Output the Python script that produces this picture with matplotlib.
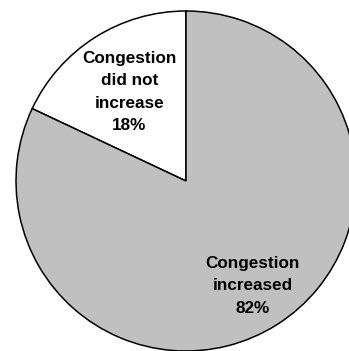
import numpy as np
from matplotlib import pyplot as plt

labels = ["Congestion\ndid not\nincrease", "Congestion\nincreased"]
shares = [18, 82]
colors = ["#FFFFFF", "#C0C0C0"]
label_dist = [0.62, 0.73]

fig = plt.figure(figsize=(3.49, 3.51), dpi=100)
ax = fig.add_axes([0, 0, 1, 1])

wedges, _ = ax.pie(
    shares,
    colors=colors,
    startangle=90,
    counterclock=True,
    wedgeprops=dict(edgecolor="black", linewidth=1.1),
)

for w, lab, val, d in zip(wedges, labels, shares, label_dist):
    mid = np.deg2rad((w.theta1 + w.theta2) / 2)
    ax.text(
        d * np.cos(mid),
        d * np.sin(mid),
        f"{lab}\n{val}%",
        ha="center",
        va="center",
        fontsize=12.3,
        fontweight="bold",
        family="Liberation Sans",
        linespacing=1.62,
    )

# pie sits off-centre, clipped on the right and bottom
ax.set_xlim(-186 / 170, 163 / 170)
ax.set_ylim(-1.0, 181 / 170)
ax.set_aspect("auto")
ax.axis("off")

plt.savefig("out.png", dpi=100)
